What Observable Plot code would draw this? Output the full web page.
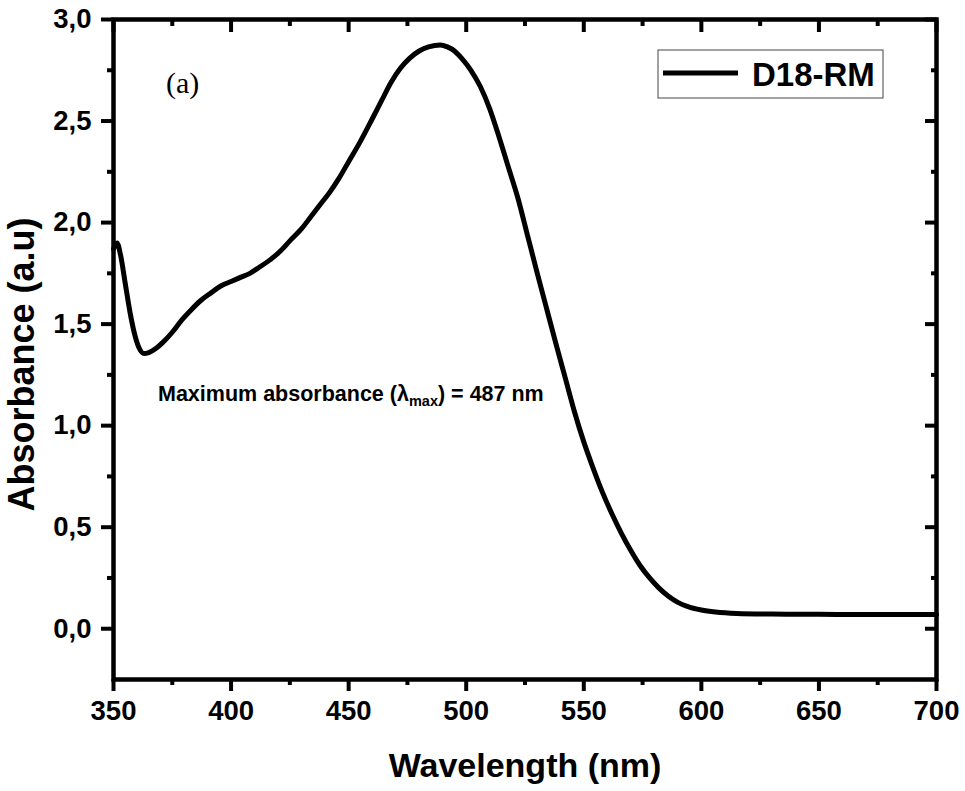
<!DOCTYPE html>
<html><head><meta charset="utf-8">
<script src="https://cdn.jsdelivr.net/npm/d3@7"></script>
<script src="https://cdn.jsdelivr.net/npm/@observablehq/plot@0.6"></script>
<style>body{margin:0;background:#fff}</style>
</head><body><div id="chart"></div>
<script>
const wavelength = [350,351.5,353,355,357,359,361,363,365,368,371,375,379,383,387,391,396,400,404,408,412,417,421,425,430,434,438,442,446,450,455,460,464,468,472,476,480,484,489,492,495,498,502,506,510,514,518,522,526,530,534,538,542,546,550,554,558,562,566,570,574,578,582,586,590,594,600,606,615,630,650,675,700];
const absorbance = [1.87,1.90,1.84,1.70,1.56,1.45,1.38,1.355,1.36,1.38,1.41,1.46,1.52,1.57,1.615,1.65,1.69,1.71,1.73,1.75,1.78,1.82,1.86,1.91,1.97,2.03,2.09,2.15,2.22,2.30,2.40,2.51,2.60,2.69,2.76,2.81,2.845,2.865,2.875,2.865,2.845,2.81,2.75,2.67,2.56,2.42,2.27,2.12,1.94,1.76,1.585,1.41,1.24,1.07,0.92,0.79,0.67,0.565,0.47,0.385,0.31,0.25,0.20,0.16,0.13,0.11,0.092,0.082,0.075,0.072,0.071,0.07,0.07];
const xMajorTicks = [350,400,450,500,550,600,650,700];
const xMinorTicks = [375,425,475,525,575,625,675];
const yMajorTicks = [0,0.5,1,1.5,2,2.5,3];
const yMinorTicks = [0.25,0.75,1.25,1.75,2.25,2.75];
const seriesName = "D18-RM";
const xTitle = "Wavelength (nm)";
const yTitle = "Absorbance (a.u)";
const panelLabel = "(a)";
const lambdaMax = 487;

const data = wavelength.map((w, i) => ({w, a: absorbance[i]}));
const fmt = d => d3.format(".1f")(d).replace(".", ",");
const font = "'Liberation Sans', Arial, sans-serif";
const blank = () => "";

const chart = Plot.plot({
  width: 965, height: 791,
  marginLeft: 113, marginRight: 29, marginTop: 19, marginBottom: 112,
  x: {domain: [350, 700]},
  y: {domain: [-0.25, 3]},
  style: {fontFamily: font, color: "#000", background: "#fff", overflow: "visible"},
  marks: [
    Plot.line(data, {x: "w", y: "a", stroke: "#000", strokeWidth: 5, curve: "monotone-x"}),
    Plot.frame({stroke: "#000", strokeWidth: 4.5}),
    Plot.axisX(xMajorTicks, {anchor: "bottom", tickSize: 12, tickPadding: 9, strokeWidth: 4, fontSize: 27.5, fontWeight: "bold", label: null, tickFormat: d => String(d)}),
    Plot.axisX(xMinorTicks, {anchor: "bottom", tickSize: 6, strokeWidth: 4, label: null, tickFormat: blank}),
    Plot.axisX(xMajorTicks, {anchor: "top", tickSize: -12, strokeWidth: 4, label: null, tickFormat: blank}),
    Plot.axisX(xMinorTicks, {anchor: "top", tickSize: -6, strokeWidth: 4, label: null, tickFormat: blank}),
    Plot.axisY(yMajorTicks, {anchor: "left", tickSize: 12, tickPadding: 10, strokeWidth: 4, fontSize: 27.5, fontWeight: "bold", label: null, tickFormat: fmt}),
    Plot.axisY(yMinorTicks, {anchor: "left", tickSize: 6, strokeWidth: 4, label: null, tickFormat: blank}),
    Plot.axisY(yMajorTicks, {anchor: "right", tickSize: -12, strokeWidth: 4, label: null, tickFormat: blank}),
    Plot.axisY(yMinorTicks, {anchor: "right", tickSize: -6, strokeWidth: 4, label: null, tickFormat: blank}),
    Plot.text([xTitle], {frameAnchor: "bottom", textAnchor: "middle", dy: 97, fontSize: 34, fontWeight: "bold", fill: "#000"}),
    Plot.text([yTitle], {frameAnchor: "left", textAnchor: "middle", rotate: -90, dx: -91, dy: 15, fontSize: 36, fontWeight: "bold", fill: "#000"})
  ]
});
document.getElementById("chart").appendChild(chart);

const svg = d3.select(chart);
// panel label
svg.append("text").attr("x", 166).attr("y", 93).attr("text-anchor", "start")
  .attr("font-family", "'Liberation Serif', 'Times New Roman', serif").attr("font-size", 30)
  .attr("fill", "#000").text(panelLabel);
// annotation
const ann = svg.append("text").attr("x", 158).attr("y", 401).attr("text-anchor", "start")
  .attr("font-family", font).attr("font-size", 21.5).attr("font-weight", "bold").attr("fill", "#000");
ann.append("tspan").text("Maximum absorbance (");
ann.append("tspan").text("λ");
ann.append("tspan").attr("font-size", 14.5).attr("dy", 5).text("max");
ann.append("tspan").attr("dy", -5).text(`) = ${lambdaMax} nm`);
// legend
const lg = svg.append("g");
lg.append("rect").attr("x", 658).attr("y", 50).attr("width", 225).attr("height", 48)
  .attr("fill", "#fff").attr("stroke", "#444").attr("stroke-width", 1);
lg.append("line").attr("x1", 663).attr("x2", 738).attr("y1", 73).attr("y2", 73)
  .attr("stroke", "#000").attr("stroke-width", 5);
lg.append("text").attr("x", 752).attr("y", 86).attr("text-anchor", "start").attr("font-family", font)
  .attr("font-size", 33).attr("font-weight", "bold").attr("fill", "#000").text(seriesName);
</script>
</body></html>
